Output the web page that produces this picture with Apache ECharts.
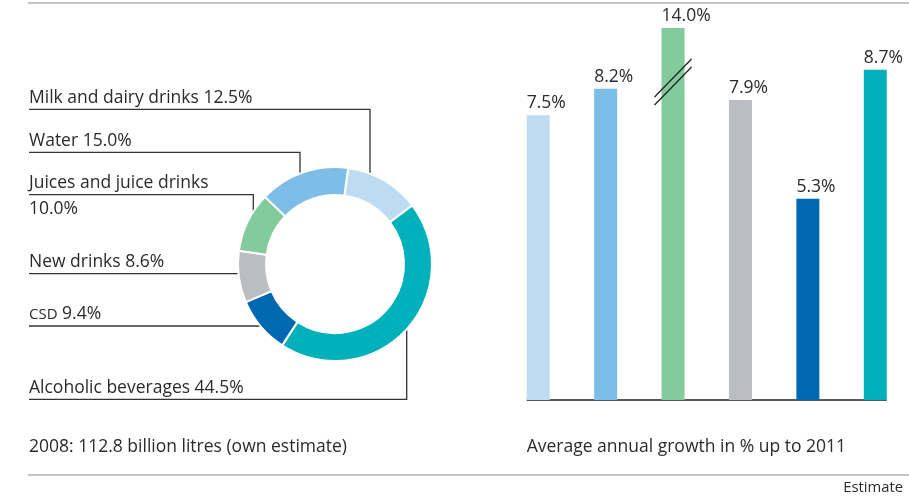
<!DOCTYPE html>
<html>
<head>
<meta charset="utf-8">
<script src="https://cdn.jsdelivr.net/npm/echarts@6.0.0/dist/echarts.min.js"></script>
<style>
  html, body { margin: 0; padding: 0; background: #fff; }
  #chart { width: 909px; height: 499px; }
</style>
</head>
<body>
<div id="chart"></div>
<script>
// Beverage market: volume shares 2008 and average annual growth up to 2011
const categories = ['Milk and dairy drinks', 'Water', 'Juices and juice drinks', 'New drinks', 'CSD', 'Alcoholic beverages'];
const shares2008 = [12.5, 15.0, 10.0, 8.6, 9.4, 44.5];
const growthTo2011 = [7.5, 8.2, 14.0, 7.9, 5.3, 8.7];
const colors = ['#bddbf3', '#7dbde8', '#82cb9c', '#bcbdc0', '#0068b0', '#00b1bc'];
// order of the slices clockwise from the top of the ring
const ringOrder = [0, 5, 4, 3, 2, 1];
// compressed stretch of the growth axis
const growthBreak = [8.8, 13.0];
const volumeNote = '2008: 112.8 billion litres (own estimate)';
const growthNote = 'Average annual growth in % up to 2011';
const footNote = 'Estimate';

const FONT = '"Open Sans", "Noto Sans", sans-serif';
const FS = 17.5;
const TEXT = '#2b2b2b';
const RING = { cx: 335, cy: 264, r0: 69, r1: 97, dot: 90 };
const LABEL_X = 29;
// leader lines: underline height, and either the x of the vertical drop or a horizontal run
const leaderLayout = [
  { lineY: 109.3, x: 370 },
  { lineY: 152.3, x: 300 },
  { lineY: 194.7, x: 253.3, valueBelow: true },
  { lineY: 273.7 },
  { lineY: 326 },
  { lineY: 399.3, x: 406.7 }
];

const fmt = v => v.toFixed(1) + '%';

const chart = echarts.init(document.getElementById('chart'), null, { renderer: 'canvas' });

const option = {
  animation: false,
  backgroundColor: '#fff',
  grid: [{ left: 504.5, width: 407.6, top: 28, height: 372, containLabel: false }],
  xAxis: [{
    type: 'category', gridIndex: 0, data: categories,
    axisLine: { show: false }, axisTick: { show: false }, axisLabel: { show: false }, splitLine: { show: false }
  }],
  yAxis: [{
    type: 'value', gridIndex: 0, min: 0, max: 14,
    breaks: [{ start: growthBreak[0], end: growthBreak[1], gap: 0 }],
    breakArea: { show: false },
    axisLine: { show: false }, axisTick: { show: false }, axisLabel: { show: false }, splitLine: { show: false }
  }],
  series: [
    {
      type: 'pie',
      center: [RING.cx, RING.cy],
      radius: [RING.r0, RING.r1],
      startAngle: 82.2,
      clockwise: true,
      silent: true,
      label: { show: false },
      labelLine: { show: false },
      itemStyle: { borderColor: '#fff', borderWidth: 2 },
      data: ringOrder.map(i => ({ name: categories[i], value: shares2008[i], itemStyle: { color: colors[i] } }))
    },
    {
      type: 'bar',
      xAxisIndex: 0, yAxisIndex: 0,
      barWidth: 23,
      silent: true,
      z: 2,
      data: growthTo2011.map((v, i) => ({ value: v, itemStyle: { color: colors[i] } })),
      label: {
        show: true,
        position: [0, -3],
        align: 'left',
        verticalAlign: 'bottom',
        formatter: p => fmt(p.value),
        fontFamily: FONT, fontSize: FS, color: TEXT
      }
    },
    {
      // double slash marking the shortened bar, drawn just below the break
      type: 'custom',
      xAxisIndex: 0, yAxisIndex: 0,
      silent: true,
      z: 10,
      data: growthTo2011.map((v, i) => [i, v]).filter(d => d[1] > growthBreak[1]).map(d => [d[0], growthBreak[0]]),
      renderItem: (params, api) => {
        const p = api.coord([api.value(0), api.value(1)]);
        const cy = p[1] + 16;
        const stroke = { stroke: '#222', lineWidth: 1.3 };
        return {
          type: 'group',
          children: [-4, 4].map(off => ({
            type: 'line',
            z2: 100,
            shape: { x1: p[0] - 18.5, y1: cy + off + 19, x2: p[0] + 18.5, y2: cy + off - 19 },
            style: stroke
          }))
        };
      }
    }
  ]
};

chart.setOption(option);

// decorations that depend on the drawn scales
const base0 = chart.convertToPixel({ gridIndex: 0 }, [0, 0]);
const baseN = chart.convertToPixel({ gridIndex: 0 }, [categories.length - 1, 0]);
const halfBar = 11.5;

const textStyle = (text, x, y, extra) => Object.assign({
  text, x, y, fill: TEXT, font: FS + 'px ' + FONT,
  fontSize: FS, fontFamily: FONT,
  textAlign: 'left', align: 'left', textVerticalAlign: 'middle', verticalAlign: 'middle'
}, extra || {});

const graphics = [];
// rules above and below the figure
graphics.push({ type: 'line', shape: { x1: 28, y1: 3, x2: 909, y2: 3 }, style: { stroke: '#b0b0b0', lineWidth: 1.3 } });
graphics.push({ type: 'line', shape: { x1: 28, y1: 475, x2: 909, y2: 475 }, style: { stroke: '#b0b0b0', lineWidth: 1.3 } });
// bar baseline
graphics.push({
  type: 'line',
  shape: { x1: base0[0] - halfBar, y1: base0[1], x2: baseN[0] + halfBar, y2: baseN[1] },
  style: { stroke: '#222', lineWidth: 1.5 }
});

// ring labels with leader lines
categories.forEach((name, i) => {
  const L = leaderLayout[i];
  let dx, dy;
  if (L.x !== undefined) {
    dx = L.x;
    const h = Math.sqrt(RING.dot * RING.dot - (L.x - RING.cx) * (L.x - RING.cx));
    dy = L.lineY < RING.cy ? RING.cy - h : RING.cy + h;
  } else {
    dy = L.lineY;
    dx = RING.cx - Math.sqrt(RING.dot * RING.dot - (L.lineY - RING.cy) * (L.lineY - RING.cy));
  }
  graphics.push({
    type: 'polyline',
    shape: { points: [[LABEL_X, L.lineY], [dx, L.lineY], [dx, dy]] },
    style: { stroke: '#333', lineWidth: 1.3, fill: null }
  });
  graphics.push({ type: 'circle', shape: { cx: dx, cy: dy, r: 3.2 }, style: { fill: '#1a1a1a' } });

  const isAbbr = name === name.toUpperCase();
  const head = isAbbr ? '{sc|' + name + '}' : name;
  const rich = { sc: { fontSize: 15, fontFamily: FONT, fill: TEXT, color: TEXT } };
  if (L.valueBelow) {
    graphics.push({ type: 'text', style: textStyle(name, LABEL_X, L.lineY - 11.5) });
    graphics.push({ type: 'text', style: textStyle(fmt(shares2008[i]), LABEL_X, L.lineY + 14.2) });
  } else {
    graphics.push({ type: 'text', style: textStyle(head + ' ' + fmt(shares2008[i]), LABEL_X, L.lineY - 11.5, { rich }) });
  }
});

graphics.push({ type: 'text', style: textStyle(volumeNote, LABEL_X, 447) });
graphics.push({ type: 'text', style: textStyle(growthNote, base0[0] - halfBar, 447) });
graphics.push({ type: 'text', style: textStyle(footNote, 903, 487.5, { font: '14.8px ' + FONT, fontSize: 14.8, textAlign: 'right', align: 'right' }) });

chart.setOption({ graphic: { elements: graphics } });
</script>
</body>
</html>
